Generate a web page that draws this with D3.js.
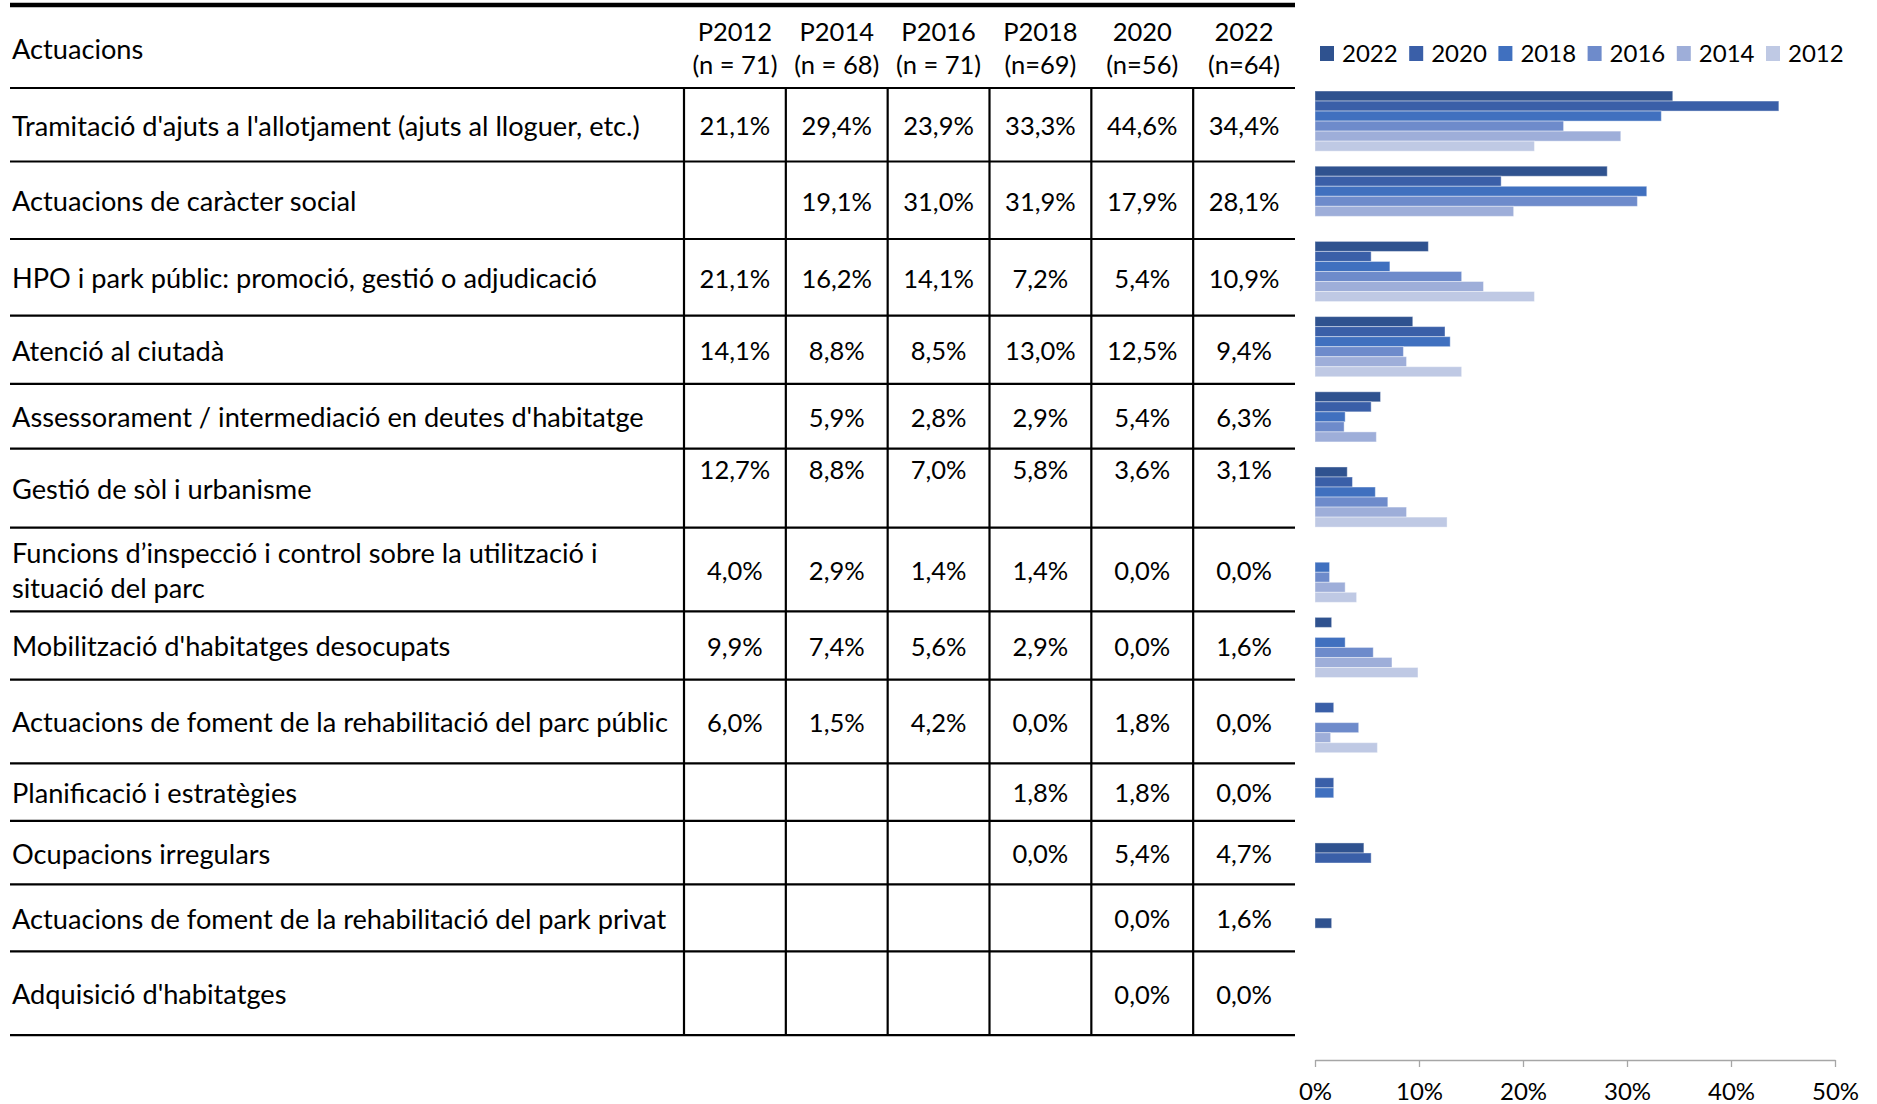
<!DOCTYPE html>
<meta charset="utf-8">
<style>
    body { margin: 0; background: #fff; }
    text { font-family: Lato, "Open Sans", sans-serif; fill: #000; }
    .cell { font-size: 25.5px; }
    .rowlabel { font-size: 27.2px; }
    .legend text, .axis text { font-size: 24px; }
    .axis path, .axis line { stroke: #a6a6a6; stroke-width: 1.3; }
</style>

<svg width="1877" height="1104"></svg>
<script src="https://d3js.org/d3.v7.min.js"></script>

<script>
    // ---- data ----
    var actuacions = [
        "Tramitació d'ajuts a l'allotjament (ajuts al lloguer, etc.)",
        "Actuacions de caràcter social",
        "HPO i park públic: promoció, gestió o adjudicació",
        "Atenció al ciutadà",
        "Assessorament / intermediació en deutes d'habitatge",
        "Gestió de sòl i urbanisme",
        "Funcions d’inspecció i control sobre la utilització i|situació del parc",
        "Mobilització d'habitatges desocupats",
        "Actuacions de foment de la rehabilitació del parc públic",
        "Planificació i estratègies",
        "Ocupacions irregulars",
        "Actuacions de foment de la rehabilitació del park privat",
        "Adquisició d'habitatges"
    ];
    var colHeads = ["P2012", "P2014", "P2016", "P2018", "2020", "2022"];
    var colN = ["(n = 71)", "(n = 68)", "(n = 71)", "(n=69)", "(n=56)", "(n=64)"];
    var years = ["2022", "2020", "2018", "2016", "2014", "2012"];

    var v2012 = [21.1, null, 21.1, 14.1, null, 12.7, 4.0, 9.9, 6.0, null, null, null, null];
    var v2014 = [29.4, 19.1, 16.2, 8.8, 5.9, 8.8, 2.9, 7.4, 1.5, null, null, null, null];
    var v2016 = [23.9, 31.0, 14.1, 8.5, 2.8, 7.0, 1.4, 5.6, 4.2, null, null, null, null];
    var v2018 = [33.3, 31.9, 7.2, 13.0, 2.9, 5.8, 1.4, 2.9, 0.0, 1.8, 0.0, null, null];
    var v2020 = [44.6, 17.9, 5.4, 12.5, 5.4, 3.6, 0.0, 0.0, 1.8, 1.8, 5.4, 0.0, 0.0];
    var v2022 = [34.4, 28.1, 10.9, 9.4, 6.3, 3.1, 0.0, 1.6, 0.0, 0.0, 4.7, 1.6, 0.0];

    var axisTicks = [0, 10, 20, 30, 40, 50];

    // table columns in order, chart series keyed by year
    var tableCols = [v2012, v2014, v2016, v2018, v2020, v2022];
    var series = { "2022": v2022, "2020": v2020, "2018": v2018, "2016": v2016, "2014": v2014, "2012": v2012 };

    // ---- layout ----
    var svg = d3.select("svg");
    var tableLeft = 10, tableRight = 1295, labelColRight = 684;
    var headerBottom = 88;
    var rowH = [73.5, 77.5, 76.6, 68.3, 64.7, 79, 83.7, 68.3, 83.7, 57.5, 63.5, 67, 83.8];
    var topAligned = new Set(["Gestió de sòl i urbanisme"]);

    var rowTop = [];
    rowH.reduce(function (acc, h) { rowTop.push(acc); return acc + h; }, headerBottom);
    var tableBottom = rowTop[rowTop.length - 1] + rowH[rowH.length - 1];

    var locale = d3.formatLocale({ decimal: ",", thousands: ".", grouping: [3], currency: ["", "€"] });
    var fmt = locale.format(".1f");

    var col = d3.scaleBand().domain(colHeads).range([labelColRight, tableRight]);

    var table = svg.append("g").attr("class", "table");

    // header
    table.append("text").attr("class", "rowlabel")
        .attr("x", 12).attr("y", 49).attr("dy", "0.35em")
        .text("Actuacions");
    colHeads.forEach(function (c, i) {
        var cx = col(c) + col.bandwidth() / 2;
        table.append("text").attr("class", "cell").attr("text-anchor", "middle")
            .attr("x", cx).attr("y", 32).attr("dy", "0.35em").text(c);
        table.append("text").attr("class", "cell").attr("text-anchor", "middle")
            .attr("x", cx).attr("y", 65).attr("dy", "0.35em").text(colN[i]);
    });

    // rows
    actuacions.forEach(function (a, r) {
        var cy = rowTop[r] + rowH[r] / 2 + 1.5;
        var lines = a.split("|");
        lines.forEach(function (l, k) {
            table.append("text").attr("class", "rowlabel")
                .attr("x", 12)
                .attr("y", cy + (k - (lines.length - 1) / 2) * 35)
                .attr("dy", "0.35em")
                .text(l);
        });
        var vy = topAligned.has(a) ? rowTop[r] + 21 : cy;
        tableCols.forEach(function (vals, j) {
            if (vals[r] == null) return;
            table.append("text").attr("class", "cell").attr("text-anchor", "middle")
                .attr("x", col(colHeads[j]) + col.bandwidth() / 2)
                .attr("y", vy).attr("dy", "0.35em")
                .text(fmt(vals[r]) + "%");
        });
    });

    // grid lines
    table.append("line")
        .attr("x1", tableLeft).attr("x2", tableRight).attr("y1", 5).attr("y2", 5)
        .attr("stroke", "#000").attr("stroke-width", 4.6);
    rowTop.concat([tableBottom]).forEach(function (y) {
        table.append("line")
            .attr("x1", tableLeft).attr("x2", tableRight).attr("y1", y).attr("y2", y)
            .attr("stroke", "#000").attr("stroke-width", 2.2);
    });
    colHeads.forEach(function (c) {
        table.append("line")
            .attr("x1", col(c)).attr("x2", col(c)).attr("y1", headerBottom).attr("y2", tableBottom)
            .attr("stroke", "#000").attr("stroke-width", 2.2);
    });

    // ---- chart ----
    var color = d3.scaleOrdinal()
        .domain(years)
        .range(["#2f528f", "#3a5fa8", "#4070bf", "#6e8bcb", "#9eaed9", "#bfc9e4"]);

    var x = d3.scaleLinear().domain([0, 50]).range([1315, 1835]);
    var y = d3.scaleBand().domain(actuacions).range([83.5, 1061])
        .paddingInner(0.2).paddingOuter(0.1);
    var ySub = d3.scaleBand().domain(years).range([0, y.bandwidth()]);

    var chart = svg.append("g").attr("class", "chart");

    var group = chart.selectAll(".cat")
        .data(actuacions)
        .enter().append("g")
        .attr("class", "cat")
        .attr("transform", function (d) { return "translate(0," + y(d) + ")"; });

    group.selectAll("rect")
        .data(function (d, i) {
            return years.map(function (yr) { return { year: yr, value: series[yr][i] }; })
                .filter(function (e) { return e.value != null && e.value > 0; });
        })
        .enter().append("rect")
        .attr("x", x(0))
        .attr("y", function (d) { return ySub(d.year); })
        .attr("width", function (d) { return x(d.value) - x(0); })
        .attr("height", ySub.bandwidth())
        .attr("fill", function (d) { return color(d.year); })
        .attr("stroke", "#fff").attr("stroke-opacity", 0.4).attr("stroke-width", 1);

    var axis = chart.append("g")
        .attr("class", "axis")
        .attr("transform", "translate(0,1060)")
        .call(d3.axisBottom(x).tickValues(axisTicks).tickSize(7).tickSizeOuter(0)
            .tickFormat(function (d) { return d + "%"; }));
    axis.selectAll("text").attr("y", 40).attr("dy", null).attr("fill", "#000");

    // legend
    var legend = chart.append("g").attr("class", "legend");
    var lx = d3.scalePoint().domain(years).range([1320, 1766]);
    var item = legend.selectAll("g")
        .data(years)
        .enter().append("g")
        .attr("transform", function (d) { return "translate(" + lx(d) + ",46)"; });
    item.append("rect").attr("width", 14).attr("height", 15)
        .attr("fill", function (d) { return color(d); });
    item.append("text").attr("x", 22).attr("y", 16).text(function (d) { return d; });
</script>
